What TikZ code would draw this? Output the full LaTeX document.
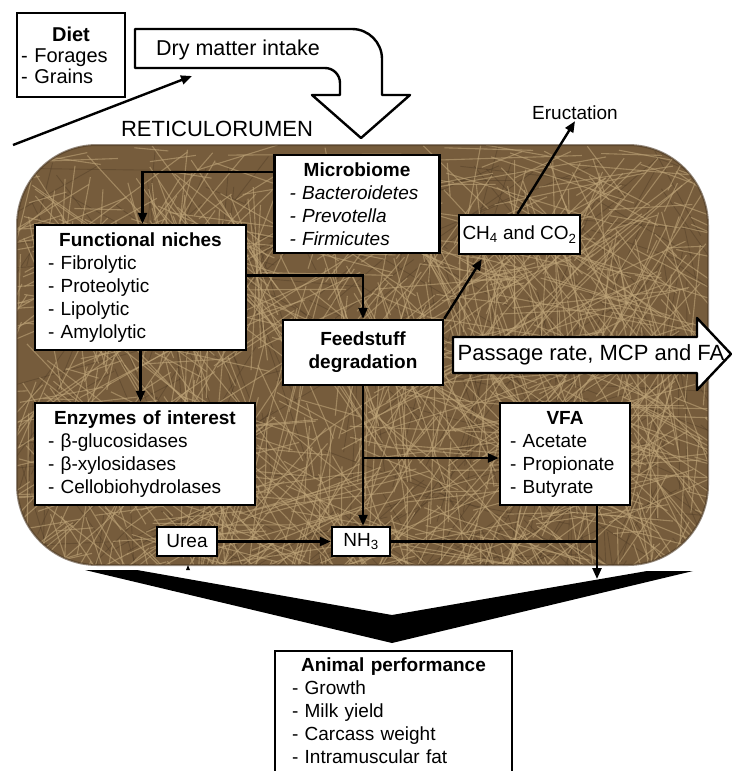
\documentclass[tikz,border=0pt]{standalone}
\usepackage{fontspec}
\setmainfont{Liberation Sans}
\usepackage{tikz}
\usetikzlibrary{arrows.meta, positioning, calc}
\definecolor{rumen}{RGB}{118,92,60}
\definecolor{straw}{RGB}{190,164,120}
\definecolor{strawdark}{RGB}{76,57,36}

\begin{document}
\begin{tikzpicture}[x=1pt, y=-1pt,
    box/.style={draw, fill=white, line width=2.4pt, inner sep=0pt,
      font=\fontsize{19}{23}\selectfont},
    lbl/.style={inner sep=1pt, font=\fontsize{19}{23}\selectfont},
    big/.style={inner sep=1pt, font=\fontsize{21.5}{24}\selectfont},
    arr/.style={-{Triangle[length=11pt,width=9pt]}, line width=2.4pt},
    bigarrow/.style={draw, fill=white, line width=2.4pt, line join=round}
  ]
  \useasboundingbox (0,0) rectangle (731,771);

  % reticulorumen with straw texture
  \begin{scope}
    \clip[rounded corners=80pt] (17,145) rectangle (708,565);
    \fill[rumen] (17,145) rectangle (708,565);
    \pgfmathsetseed{17}
    \foreach \i in {1,...,300}{
      \pgfmathsetmacro\sx{17+rnd*691}
      \pgfmathsetmacro\sy{145+rnd*420}
      \pgfmathsetmacro\sa{rnd*180}
      \pgfmathsetmacro\sl{40+rnd*160}
      \draw[strawdark, line width=0.9pt, opacity=0.4] (\sx,\sy) -- ++(\sa:\sl);
    }
    \foreach \i in {1,...,1100}{
      \pgfmathsetmacro\sx{17+rnd*691}
      \pgfmathsetmacro\sy{145+rnd*420}
      \pgfmathsetmacro\sa{rnd*180}
      \pgfmathsetmacro\sl{30+rnd*150}
      \draw[straw, line width=1.1pt, opacity=0.6] (\sx,\sy) -- ++(\sa:\sl);
    }
  \end{scope}
  \draw[strawdark, line width=2pt, opacity=0.6, rounded corners=80pt]
    (17,145) rectangle (708,565);
  \node[inner sep=1pt, font=\fontsize{22}{24}\selectfont] (retlbl) at (217,129)
    {RETICULORUMEN};

  % diet and intake
  \node[box, minimum width=108pt, minimum height=84pt, text width=100pt,
    font=\fontsize{20}{21}\selectfont] (diet) at (71,55)
    {{\centering\bfseries Diet\par}- Forages\\- Grains};
  \draw[bigarrow] (135,29) -- (352,29) arc[start angle=90, end angle=0, radius=30pt]
    -- (382,95) -- (410,95) -- (361,138) -- (312,95) -- (340,95) -- (340,83)
    arc[start angle=0, end angle=90, radius=15pt] -- (135,68) -- cycle;
  \node[big] (dmi) at (238,50) {Dry matter intake};
  \coordinate (dietin) at (13,145);
  \coordinate (dmiin) at (192,76);
  \draw[arr] (dietin) -- (dmiin);

  % boxes in the rumen
  \node[box, minimum width=165pt, minimum height=98pt, text width=135pt] (mb) at (357,204)
    {{\centering\bfseries Microbiome\par}\itshape - Bacteroidetes\\- Prevotella\\- Firmicutes};
  \node[box, minimum width=211pt, minimum height=125pt, text width=185pt] (fn) at (140.5,287.5)
    {{\centering\bfseries Functional niches\par}- Fibrolytic\\- Proteolytic\\- Lipolytic\\- Amylolytic};
  \node[box, minimum width=121pt, minimum height=39pt] (ch4) at (519.5,234.5)
    {CH\textsubscript{4} and CO\textsubscript{2}};
  \node[box, minimum width=160pt, minimum height=65pt, align=center, font=\fontsize{19}{23}\selectfont\bfseries]
    (fd) at (363,352.5) {Feedstuff\\degradation};
  \node[box, minimum width=220pt, minimum height=102pt, text width=194pt] (enz) at (145,454)
    {{\centering\bfseries Enzymes of interest\par}- β-glucosidases\\- β-xylosidases\\- Cellobiohydrolases};
  \node[box, minimum width=130pt, minimum height=102pt, text width=110pt] (vfa) at (565,454)
    {{\centering\bfseries VFA\par}- Acetate\\- Propionate\\- Butyrate};
  \node[box, minimum width=60pt, minimum height=29pt] (urea) at (187,541.5) {Urea};
  \node[box, minimum width=58pt, minimum height=29pt] (nh3) at (361,541.5) {NH\textsubscript{3}};

  % passage out of the rumen
  \draw[bigarrow] (453,337) -- (697,337) -- (697,318) -- (731,354) -- (697,390)
    -- (697,373) -- (453,373) -- cycle;
  \node[inner sep=1pt, font=\fontsize{22}{24}\selectfont] (passage) at (591,355)
    {Passage rate, MCP and FA};

  % eructation
  \node[lbl] (eruct) at (575,113) {Eructation};
  \draw[arr] ([xshift=-2pt]ch4.north) -- (eruct.south);

  % connectors
  \draw[arr] ([yshift=32pt]mb.west) -| ([xshift=2pt]fn.north);
  \draw[arr] ([yshift=12pt]fn.east) -| (fd.north);
  \draw[arr] (fn.south) -- (fn.south |- enz.north);
  \draw[arr] (fd.north east) -- ([xshift=24pt,yshift=-4pt]ch4.south west);
  \draw[arr] (fd.south) -- (fd.south |- nh3.north);
  \coordinate (br) at (363,458);
  \draw[arr] (br) -- (br -| vfa.west);
  \draw[arr] (urea) -- (nh3);
  \coordinate (vfaout) at (597,579);
  \draw[line width=2.4pt] (nh3.east) -- (nh3.east -| vfaout);
  \draw[arr] (vfaout |- vfa.south) -- (vfaout);
  \fill (186,570) -- (190,570) -- (188,565) -- cycle;

  % towards the animal
  \fill (85,570) -- (137,570) -- (392,615) -- (647,571) -- (693,571) -- (392,643) -- cycle;
  \node[box, anchor=north, minimum width=237pt, text width=203pt, inner ysep=7pt] (perf) at (393.5,650)
    {{\centering\bfseries Animal performance\par}- Growth\\- Milk yield\\- Carcass weight\\- Intramuscular fat\\[20pt]\mbox{}};
\end{tikzpicture}
\end{document}
